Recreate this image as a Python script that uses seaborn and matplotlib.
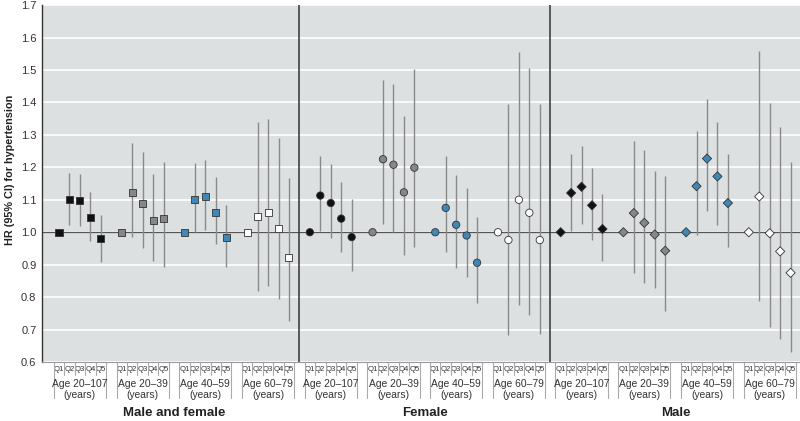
import numpy as np
import pandas as pd
import matplotlib.pyplot as plt
import seaborn as sns
from matplotlib.lines import Line2D
from matplotlib.transforms import blended_transform_factory

sns.set_theme(style="white")
plt.rcParams['font.family'] = ['Liberation Sans Narrow', 'Liberation Sans', 'DejaVu Sans']

panels = ['Male and female', 'Female', 'Male']
ages = ['Age 20–107', 'Age 20–39', 'Age 40–59', 'Age 60–79']
quintiles = ['Q1', 'Q2', 'Q3', 'Q4', 'Q5']

# HR and 95% CI, 4 age groups x 5 quintiles per panel
hr_both = [1.0, 1.100, 1.098, 1.044, 0.981, 1.0, 1.122, 1.089, 1.035, 1.041,
           1.0, 1.102, 1.110, 1.062, 0.985, 1.0, 1.048, 1.061, 1.012, 0.921]
lo_both = [1.0, 1.021, 1.019, 0.972, 0.907, 1.0, 0.985, 0.951, 0.910, 0.892,
           1.0, 1.000, 1.006, 0.965, 0.892, 1.0, 0.820, 0.833, 0.794, 0.727]
hi_both = [1.0, 1.183, 1.180, 1.124, 1.054, 1.0, 1.276, 1.247, 1.178, 1.216,
           1.0, 1.214, 1.222, 1.171, 1.083, 1.0, 1.340, 1.350, 1.290, 1.168]

hr_female = [1.0, 1.113, 1.090, 1.042, 0.985, 1.0, 1.225, 1.208, 1.123, 1.199,
             1.0, 1.075, 1.023, 0.990, 0.906, 1.0, 0.976, 1.100, 1.060, 0.976]
lo_female = [1.0, 1.003, 0.981, 0.938, 0.881, 1.0, 1.024, 1.000, 0.931, 0.954,
             1.0, 0.938, 0.890, 0.861, 0.783, 1.0, 0.683, 0.777, 0.745, 0.686]
hi_female = [1.0, 1.234, 1.209, 1.156, 1.102, 1.0, 1.468, 1.458, 1.357, 1.504,
             1.0, 1.234, 1.176, 1.137, 1.048, 1.0, 1.394, 1.556, 1.507, 1.394]

hr_male = [1.0, 1.121, 1.140, 1.083, 1.010, 1.0, 1.059, 1.029, 0.993, 0.943,
           1.0, 1.142, 1.227, 1.172, 1.090, 1.0, 1.110, 0.997, 0.941, 0.875]
lo_male = [1.0, 1.005, 1.024, 0.977, 0.912, 1.0, 0.873, 0.843, 0.827, 0.756,
           1.0, 0.993, 1.065, 1.021, 0.956, 1.0, 0.789, 0.709, 0.672, 0.630]
hi_male = [1.0, 1.242, 1.267, 1.198, 1.118, 1.0, 1.281, 1.254, 1.190, 1.172,
           1.0, 1.312, 1.410, 1.341, 1.242, 1.0, 1.559, 1.398, 1.324, 1.216]

series = [(hr_both, lo_both, hi_both), (hr_female, lo_female, hi_female), (hr_male, lo_male, hi_male)]

rows = []
for p, (hr, lo, hi) in enumerate(series):
    for i in range(len(hr)):
        g = p * 4 + i // 5
        rows.append(dict(panel=panels[p], age=ages[i // 5], quintile=quintiles[i % 5],
                         x=g * 6 + i % 5, hr=hr[i], lo=lo[i], hi=hi[i]))
df = pd.DataFrame(rows)

age_colors = {'Age 20–107': '#111111', 'Age 20–39': '#878787',
              'Age 40–59': '#3f88b5', 'Age 60–79': '#ffffff'}
panel_markers = {'Male and female': 's', 'Female': 'o', 'Male': 'D'}
panel_sizes = {'Male and female': 26, 'Female': 28, 'Male': 22}

fig = plt.figure(figsize=(8, 4.21), dpi=100)
ax = fig.add_axes([0.0525, 0.14, 0.9475, 0.848])
ax.set_facecolor('#dde0e1')

yticks = np.round(np.arange(0.6, 1.71, 0.1), 1)
for y in yticks:
    ax.axhline(y, color='white', lw=1.2, zorder=0)
ax.axhline(1.0, color='#555555', lw=0.9, zorder=1)

ax.vlines(df.x, df.lo, df.hi, color='#8a8a8a', lw=1, zorder=2)
sns.scatterplot(data=df, x='x', y='hr', hue='age', style='panel', size='panel',
                sizes=panel_sizes, palette=age_colors, markers=panel_markers,
                edgecolor='#333333', linewidth=0.6, legend=False, zorder=3, ax=ax)

ax.axvline(23, color='#333333', lw=1.1, zorder=1)
ax.axvline(47, color='#333333', lw=1.1, zorder=1)

ax.set_xlim(-1.63, 70.9)
ax.set_ylim(0.6, 1.7)
ax.set_yticks(yticks)
ax.set_yticklabels([f'{y:.1f}' for y in yticks])
ax.set_xticks(df.x)
ax.set_xticklabels(df.quintile)
ax.tick_params(axis='y', length=0, labelsize=8, colors='#333333', pad=4)
ax.tick_params(axis='x', length=0, labelsize=5.6, colors='#333333', pad=2.5)
ax.set_xlabel('')
ax.set_ylabel('')

for s in ['top', 'right']:
    ax.spines[s].set_visible(False)
ax.spines['left'].set_color('#333333')
ax.spines['left'].set_linewidth(1)
ax.spines['bottom'].set_color('#9a9a9a')
ax.spines['bottom'].set_linewidth(0.8)

# bracket lines and group labels under the axis
trans = blended_transform_factory(ax.transData, ax.transAxes)
for g in range(12):
    x0 = g * 6
    for k in range(4):
        ax.add_line(Line2D([x0 + k + 0.5] * 2, [0, -0.036], transform=trans,
                           color='#aaaaaa', lw=0.8, clip_on=False))
    for xb in (x0 - 0.5, x0 + 4.5):
        ax.add_line(Line2D([xb, xb], [0, -0.1], transform=trans,
                           color='#aaaaaa', lw=0.8, clip_on=False))
    ax.text(x0 + 2, -0.047, ages[g % 4] + '\n(years)', transform=trans,
            ha='center', va='top', fontsize=7.4, color='#333333', linespacing=1.1)

for p in range(3):
    ax.text(p * 24 + 11, -0.143, panels[p], transform=trans, ha='center', va='center',
            fontsize=9.5, fontweight='bold', color='#222222')

fig.text(0.013, 0.596, 'HR (95% CI) for hypertension', rotation=90, ha='center',
         va='center', fontsize=7.8, fontweight='bold', color='#222222')

fig.savefig('out.png', dpi=100)
